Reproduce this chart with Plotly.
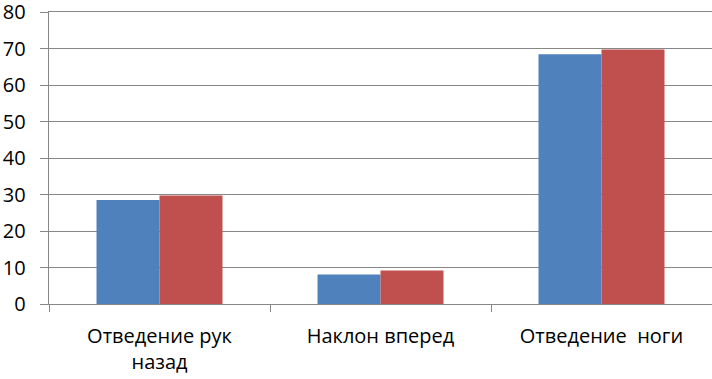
import plotly.graph_objects as go

categories = ["Отведение рук<br>назад", "Наклон вперед", "Отведение  ноги"]
series_1 = [28.5, 8.1, 68.4]
series_2 = [29.7, 9.2, 69.7]
y_ticks = [0, 10, 20, 30, 40, 50, 60, 70, 80]
y_tick_text = [f"{v}\u00a0\u00a0" for v in y_ticks]

font_family = "Open Sans, sans-serif"

fig = go.Figure()
fig.add_bar(x=categories, y=series_1, marker=dict(color="#4F81BD", line=dict(width=0)))
fig.add_bar(x=categories, y=series_2, marker=dict(color="#C0504D", line=dict(width=0)))

fig.update_layout(
    width=712, height=379,
    margin=dict(l=49, r=0, t=12, b=75, autoexpand=False),
    paper_bgcolor="white", plot_bgcolor="white",
    barmode="group", bargap=0.43, bargroupgap=0,
    showlegend=False,
    font=dict(family=font_family, size=20, color="#000000"),
)
fig.update_yaxes(
    range=[0, 80], tickvals=y_ticks, ticktext=y_tick_text,
    showgrid=True, gridcolor="#878787", gridwidth=1,
    showline=True, linecolor="#878787", linewidth=1,
    ticks="outside", ticklen=8, tickcolor="#878787",
    ticklabeloverflow="allow",
    zeroline=False, tickfont=dict(size=20), automargin=False,
)
fig.update_xaxes(
    showline=True, linecolor="#878787", linewidth=1, mirror=True,
    ticks="outside", ticklen=7, tickcolor="#878787", tickson="boundaries",
    tickfont=dict(size=20), automargin=False, ticklabelstandoff=14,
)
fig.write_html("out.html", config={"displayModeBar": False},
               post_script="document.body.style.margin='0';")
